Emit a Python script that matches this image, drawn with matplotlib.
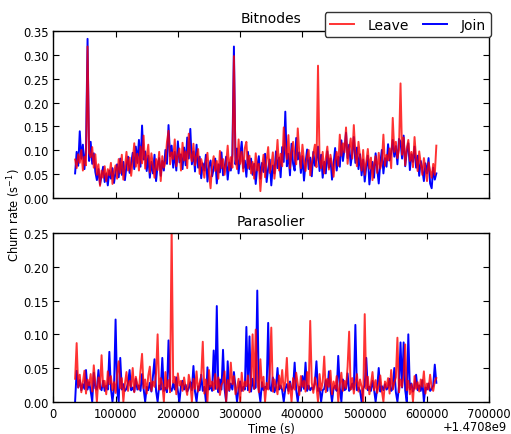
import matplotlib

matplotlib.use("Agg")

import matplotlib.pyplot as plt  # noqa: E402
import numpy as np  # noqa: E402

T0 = 1.4708e9
START = 35000
STEP = 2500  # sampling interval of the churn series, seconds

# Bitnodes churn rates (1/s), one value per STEP from T0 + START
bit_join = [
    0.052, 0.097, 0.068, 0.140, 0.083, 0.112, 0.061, 0.104, 0.333, 0.078,
    0.118, 0.072, 0.094, 0.055, 0.038, 0.061, 0.029, 0.047, 0.066, 0.034,
    0.052, 0.027, 0.058, 0.041, 0.063, 0.032, 0.055, 0.071, 0.044, 0.083,
    0.049, 0.076, 0.038, 0.068, 0.087, 0.053, 0.072, 0.095, 0.061, 0.108,
    0.074, 0.122, 0.066, 0.152, 0.081, 0.098, 0.057, 0.089, 0.043, 0.076,
    0.052, 0.091, 0.036, 0.069, 0.084, 0.047, 0.078, 0.058, 0.101, 0.072,
    0.153, 0.088, 0.110, 0.064, 0.097, 0.058, 0.119, 0.075, 0.092, 0.061,
    0.106, 0.069, 0.127, 0.083, 0.145, 0.071, 0.098, 0.056, 0.112, 0.064,
    0.087, 0.042, 0.073, 0.058, 0.091, 0.035, 0.067, 0.079, 0.046, 0.062,
    0.083, 0.031, 0.071, 0.054, 0.096, 0.048, 0.064, 0.087, 0.039, 0.075,
    0.058, 0.092, 0.317, 0.071, 0.104, 0.052, 0.088, 0.118, 0.063, 0.079,
    0.045, 0.097, 0.061, 0.083, 0.049, 0.072, 0.030, 0.066, 0.088, 0.041,
    0.074, 0.055, 0.093, 0.034, 0.062, 0.081, 0.027, 0.069, 0.052, 0.098,
    0.063, 0.085, 0.044, 0.107, 0.076, 0.181, 0.067, 0.093, 0.048, 0.114,
    0.072, 0.058, 0.126, 0.081, 0.096, 0.053, 0.088, 0.037, 0.074, 0.102,
    0.061, 0.085, 0.046, 0.097, 0.068, 0.079, 0.108, 0.057, 0.091, 0.043,
    0.076, 0.052, 0.098, 0.064, 0.083, 0.039, 0.071, 0.105, 0.058, 0.087,
    0.066, 0.121, 0.078, 0.103, 0.137, 0.084, 0.112, 0.069, 0.095, 0.128,
    0.074, 0.106, 0.061, 0.092, 0.048, 0.081, 0.035, 0.067, 0.089, 0.029,
    0.058, 0.076, 0.043, 0.094, 0.062, 0.031, 0.073, 0.101, 0.052, 0.084,
    0.066, 0.113, 0.079, 0.095, 0.122, 0.087, 0.109, 0.071, 0.124, 0.118,
    0.083, 0.131, 0.067, 0.098, 0.115, 0.059, 0.092, 0.076, 0.108, 0.064,
    0.089, 0.047, 0.078, 0.061, 0.036, 0.073, 0.052, 0.084, 0.031, 0.021,
    0.064, 0.039, 0.052,
]
bit_leave = [
    0.081, 0.063, 0.092, 0.074, 0.101, 0.058, 0.087, 0.069, 0.317, 0.095,
    0.086, 0.107, 0.064, 0.092, 0.049, 0.071, 0.026, 0.058, 0.043, 0.067,
    0.036, 0.061, 0.048, 0.074, 0.030, 0.057, 0.069, 0.041, 0.082, 0.053,
    0.091, 0.039, 0.064, 0.097, 0.058, 0.085, 0.047, 0.078, 0.115, 0.066,
    0.093, 0.058, 0.108, 0.073, 0.131, 0.062, 0.087, 0.112, 0.054, 0.094,
    0.067, 0.043, 0.082, 0.059, 0.097, 0.036, 0.088, 0.064, 0.076, 0.118,
    0.141, 0.071, 0.096, 0.082, 0.123, 0.067, 0.089, 0.104, 0.058, 0.116,
    0.079, 0.098, 0.063, 0.135, 0.092, 0.077, 0.114, 0.069, 0.088, 0.103,
    0.051, 0.082, 0.067, 0.043, 0.076, 0.095, 0.053, 0.021, 0.069, 0.088,
    0.057, 0.078, 0.041, 0.099, 0.063, 0.082, 0.049, 0.071, 0.110, 0.058,
    0.086, 0.064, 0.297, 0.083, 0.061, 0.123, 0.072, 0.097, 0.056, 0.105,
    0.118, 0.063, 0.089, 0.052, 0.076, 0.041, 0.094, 0.058, 0.072, 0.015,
    0.063, 0.091, 0.044, 0.079, 0.107, 0.053, 0.068, 0.096, 0.041, 0.073,
    0.122, 0.058, 0.093, 0.067, 0.148, 0.104, 0.082, 0.132, 0.063, 0.097,
    0.118, 0.085, 0.071, 0.146, 0.094, 0.063, 0.112, 0.079, 0.057, 0.088,
    0.101, 0.048, 0.074, 0.093, 0.112, 0.065, 0.277, 0.081, 0.063, 0.097,
    0.052, 0.084, 0.108, 0.060, 0.091, 0.071, 0.045, 0.079, 0.097, 0.068,
    0.133, 0.089, 0.115, 0.096, 0.148, 0.072, 0.104, 0.125, 0.083, 0.153,
    0.093, 0.067, 0.118, 0.086, 0.058, 0.101, 0.049, 0.077, 0.103, 0.062,
    0.085, 0.038, 0.071, 0.088, 0.053, 0.095, 0.062, 0.074, 0.133, 0.068,
    0.091, 0.079, 0.104, 0.063, 0.168, 0.097, 0.118, 0.084, 0.101, 0.240,
    0.091, 0.127, 0.069, 0.104, 0.122, 0.078, 0.097, 0.065, 0.128, 0.083,
    0.057, 0.098, 0.072, 0.049, 0.084, 0.062, 0.036, 0.075, 0.058, 0.043,
    0.072, 0.049, 0.110,
]

# Parasolier churn rates (1/s)
par_join = [
    0.000, 0.046, 0.021, 0.032, 0.017, 0.026, 0.019, 0.047, 0.018, 0.029,
    0.016, 0.000, 0.043, 0.020, 0.018, 0.047, 0.022, 0.017, 0.031, 0.016,
    0.024, 0.018, 0.074, 0.019, 0.000, 0.021, 0.122, 0.017, 0.000, 0.065,
    0.018, 0.026, 0.016, 0.019, 0.028, 0.047, 0.017, 0.021, 0.015, 0.034,
    0.018, 0.024, 0.016, 0.041, 0.019, 0.000, 0.022, 0.017, 0.028, 0.015,
    0.038, 0.063, 0.016, 0.000, 0.024, 0.018, 0.065, 0.016, 0.021, 0.014,
    0.091, 0.020, 0.016, 0.027, 0.018, 0.036, 0.016, 0.000, 0.023, 0.031,
    0.018, 0.025, 0.015, 0.020, 0.029, 0.017, 0.053, 0.015, 0.000, 0.023,
    0.017, 0.040, 0.016, 0.022, 0.000, 0.051, 0.018, 0.024, 0.016, 0.076,
    0.019, 0.142, 0.014, 0.033, 0.018, 0.077, 0.019, 0.000, 0.060, 0.016,
    0.027, 0.018, 0.044, 0.021, 0.000, 0.019, 0.030, 0.016, 0.022, 0.018,
    0.111, 0.017, 0.097, 0.015, 0.034, 0.019, 0.021, 0.165, 0.018, 0.000,
    0.029, 0.017, 0.022, 0.019, 0.117, 0.020, 0.016, 0.036, 0.014, 0.021,
    0.050, 0.018, 0.024, 0.017, 0.000, 0.019, 0.026, 0.016, 0.030, 0.018,
    0.021, 0.058, 0.017, 0.000, 0.022, 0.016, 0.038, 0.019, 0.058, 0.016,
    0.024, 0.017, 0.021, 0.018, 0.028, 0.060, 0.016, 0.020, 0.000, 0.017,
    0.019, 0.032, 0.016, 0.045, 0.018, 0.000, 0.020, 0.024, 0.016, 0.068,
    0.021, 0.000, 0.033, 0.017, 0.019, 0.042, 0.016, 0.020, 0.027, 0.018,
    0.114, 0.017, 0.021, 0.016, 0.000, 0.019, 0.024, 0.065, 0.017, 0.022,
    0.016, 0.031, 0.018, 0.000, 0.020, 0.050, 0.015, 0.023, 0.017, 0.026,
    0.018, 0.021, 0.034, 0.016, 0.019, 0.050, 0.014, 0.000, 0.023, 0.088,
    0.021, 0.088, 0.017, 0.000, 0.100, 0.018, 0.027, 0.015, 0.022, 0.040,
    0.017, 0.024, 0.016, 0.032, 0.000, 0.021, 0.018, 0.027, 0.016, 0.019,
    0.024, 0.055, 0.028,
]
par_leave = [
    0.034, 0.087, 0.021, 0.040, 0.014, 0.029, 0.046, 0.012, 0.033, 0.024,
    0.041, 0.015, 0.054, 0.027, 0.000, 0.036, 0.019, 0.069, 0.022, 0.031,
    0.011, 0.045, 0.026, 0.038, 0.017, 0.029, 0.013, 0.042, 0.060, 0.020,
    0.035, 0.000, 0.027, 0.044, 0.016, 0.031, 0.022, 0.050, 0.014, 0.037,
    0.025, 0.018, 0.046, 0.071, 0.020, 0.033, 0.012, 0.039, 0.052, 0.016,
    0.030, 0.022, 0.041, 0.100, 0.018, 0.035, 0.026, 0.000, 0.044, 0.019,
    0.032, 0.014, 0.260, 0.028, 0.037, 0.011, 0.042, 0.024, 0.031, 0.016,
    0.036, 0.021, 0.010, 0.040, 0.027, 0.000, 0.034, 0.019, 0.045, 0.015,
    0.028, 0.038, 0.089, 0.012, 0.033, 0.000, 0.047, 0.022, 0.030, 0.017,
    0.041, 0.019, 0.036, 0.010, 0.025, 0.029, 0.045, 0.000, 0.032, 0.017,
    0.058, 0.026, 0.038, 0.011, 0.021, 0.034, 0.000, 0.043, 0.016, 0.030,
    0.023, 0.039, 0.014, 0.028, 0.100, 0.019, 0.107, 0.031, 0.014, 0.063,
    0.022, 0.037, 0.000, 0.028, 0.018, 0.041, 0.110, 0.015, 0.033, 0.024,
    0.011, 0.039, 0.020, 0.047, 0.016, 0.030, 0.065, 0.012, 0.027, 0.000,
    0.035, 0.018, 0.043, 0.026, 0.010, 0.038, 0.022, 0.031, 0.015, 0.044,
    0.019, 0.120, 0.028, 0.013, 0.036, 0.023, 0.000, 0.041, 0.017, 0.029,
    0.067, 0.014, 0.034, 0.022, 0.046, 0.011, 0.030, 0.019, 0.038, 0.000,
    0.025, 0.043, 0.016, 0.031, 0.020, 0.052, 0.104, 0.018, 0.035, 0.012,
    0.028, 0.041, 0.015, 0.033, 0.022, 0.000, 0.130, 0.019, 0.037, 0.011,
    0.026, 0.044, 0.017, 0.032, 0.013, 0.024, 0.039, 0.016, 0.000, 0.030,
    0.021, 0.035, 0.012, 0.047, 0.018, 0.028, 0.036, 0.095, 0.014, 0.033,
    0.022, 0.040, 0.085, 0.017, 0.031, 0.011, 0.026, 0.000, 0.038, 0.019,
    0.029, 0.015, 0.033, 0.022, 0.045, 0.012, 0.027, 0.018, 0.040, 0.021,
    0.016, 0.030, 0.035,
]


def times_for(series):
    return T0 + START + STEP * np.arange(len(series))


plt.rcParams.update({
    "font.size": 8.3,
    "xtick.direction": "in",
    "ytick.direction": "in",
    "xtick.top": True,
    "ytick.right": True,
    "xtick.major.size": 4,
    "ytick.major.size": 4,
    "axes.linewidth": 1.0,
})

fig = plt.figure(figsize=(5.11, 4.35), dpi=100)
ax1 = fig.add_axes([0.1043, 0.5418, 0.8532, 0.3853])
ax2 = fig.add_axes([0.1043, 0.0743, 0.8532, 0.3871], sharex=ax1)

panels = [
    (ax1, "Bitnodes", bit_join, bit_leave, 0.35),
    (ax2, "Parasolier", par_join, par_leave, 0.25),
]
for ax, title, join, leave, ytop in panels:
    ax.plot(times_for(join), join, color="b", linewidth=1.4, label="Join")
    ax.plot(times_for(leave), leave, color="r", alpha=0.8, linewidth=1.4,
            label="Leave")
    ax.set_ylim(0, ytop)
    ax.set_yticks(np.arange(0, ytop + 0.001, 0.05))
    ax.yaxis.set_major_formatter(plt.FormatStrFormatter("%.2f"))
    ax.set_title(title, fontsize=10)

ax2.set_xlim(T0, T0 + 700000)
ax2.set_xticks(T0 + np.arange(0, 700001, 100000))
ax2.ticklabel_format(axis="x", useOffset=T0, style="plain")
ax2.set_xlabel("Time (s)", labelpad=2)
ax2.xaxis.OFFSETTEXTPAD = 0
ax2.xaxis.offsetText.set_x(1.04)
ax1.tick_params(labelbottom=False)
ax1.xaxis.offsetText.set_visible(False)

fig.text(14 / 511, 1 - 215 / 435, "Churn rate (s$^{-1}$)", rotation=90,
         ha="center", va="center")

handles, labels = ax1.get_legend_handles_labels()
ax1.legend(handles[::-1], labels[::-1], ncol=2, loc="upper right",
           bbox_to_anchor=(0.961, 0.970), bbox_transform=fig.transFigure,
           borderaxespad=0, fontsize=10, fancybox=True, framealpha=1,
           edgecolor="0.2", handlelength=1.7, handletextpad=1.0,
           columnspacing=1.0)

fig.savefig("out.png", dpi=100, facecolor="white")
